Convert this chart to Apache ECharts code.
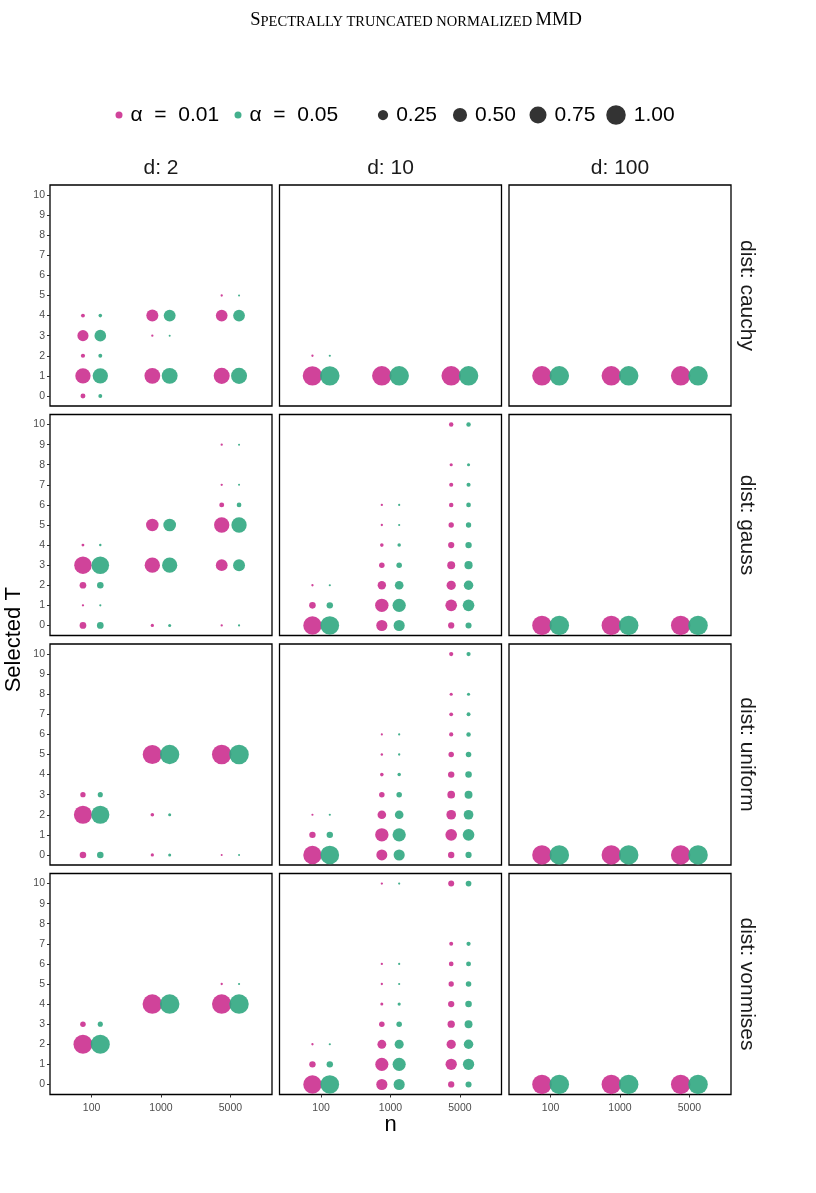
<!DOCTYPE html>
<html>
<head>
<meta charset="utf-8">
<title>Spectrally truncated normalized MMD</title>
<script src="https://cdn.jsdelivr.net/npm/echarts@6/dist/echarts.min.js"></script>
<style>
  html, body { margin: 0; padding: 0; background: #fff; }
  #chart { width: 816px; height: 1193px; }
</style>
</head>
<body>
<div id="chart"></div>
<script>
// facet labels / ticks
const nLabels = ['100', '1000', '5000'];
const dimLabels = ['d: 2', 'd: 10', 'd: 100'];
const distLabels = ['dist: cauchy', 'dist: gauss', 'dist: uniform', 'dist: vonmises'];
const tTicks = [0, 1, 2, 3, 4, 5, 6, 7, 8, 9, 10];
const sizeBreaks = [0.25, 0.5, 0.75, 1.0];
const alphaNames = ['α  =  0.01', 'α  =  0.05'];

// each point: [n index, selected T, proportion]
const cauchyD2A01 = [[0,0,.045],[0,1,.6],[0,2,.03],[0,3,.3],[0,4,.025],[1,1,.64],[1,3,.005],[1,4,.355],[2,1,.66],[2,4,.335],[2,5,.005]];
const cauchyD2A05 = [[0,0,.025],[0,1,.6],[0,2,.025],[0,3,.33],[0,4,.02],[1,1,.65],[1,3,.003],[1,4,.347],[2,1,.66],[2,4,.337],[2,5,.003]];
const cauchyD10A01 = [[0,1,.995],[0,2,.005],[1,1,1],[2,1,1]];
const cauchyD10A05 = [[0,1,.996],[0,2,.004],[1,1,1],[2,1,1]];
const cauchyD100A01 = [[0,1,1],[1,1,1],[2,1,1]];
const cauchyD100A05 = [[0,1,1],[1,1,1],[2,1,1]];

const gaussD2A01 = [[0,0,.095],[0,1,.005],[0,2,.095],[0,3,.795],[0,4,.01],[1,0,.015],[1,3,.6],[1,5,.385],[2,0,.005],[2,3,.34],[2,5,.6],[2,6,.045],[2,7,.005],[2,9,.005]];
const gaussD2A05 = [[0,0,.095],[0,1,.004],[0,2,.09],[0,3,.805],[0,4,.006],[1,0,.012],[1,3,.59],[1,5,.398],[2,0,.004],[2,3,.35],[2,5,.6],[2,6,.04],[2,7,.003],[2,9,.003]];
const gaussD10A01 = [[0,0,.88],[0,1,.09],[0,2,.005],[1,0,.3],[1,1,.45],[1,2,.16],[1,3,.06],[1,4,.02],[1,5,.005],[1,6,.005],[2,0,.08],[2,1,.33],[2,2,.2],[2,3,.14],[2,4,.08],[2,5,.055],[2,6,.035],[2,7,.028],[2,8,.014],[2,10,.035]];
const gaussD10A05 = [[0,0,.91],[0,1,.086],[0,2,.004],[1,0,.3],[1,1,.44],[1,2,.17],[1,3,.06],[1,4,.018],[1,5,.004],[1,6,.004],[2,0,.075],[2,1,.33],[2,2,.21],[2,3,.15],[2,4,.085],[2,5,.055],[2,6,.04],[2,7,.028],[2,8,.013],[2,10,.035]];
const gaussD100A01 = [[0,0,1],[1,0,1],[2,0,1]];
const gaussD100A05 = [[0,0,1],[1,0,1],[2,0,1]];

const uniformD2A01 = [[0,0,.09],[0,2,.855],[0,3,.055],[1,0,.015],[1,2,.02],[1,5,.965],[2,0,.003],[2,5,.997]];
const uniformD2A05 = [[0,0,.09],[0,2,.86],[0,3,.05],[1,0,.012],[1,2,.012],[1,5,.976],[2,0,.003],[2,5,.997]];
const uniformD10A01 = [[0,0,.88],[0,1,.085],[0,2,.004],[1,0,.29],[1,1,.45],[1,2,.17],[1,3,.06],[1,4,.02],[1,5,.006],[1,6,.004],[2,0,.085],[2,1,.33],[2,2,.22],[2,3,.13],[2,4,.085],[2,5,.058],[2,6,.03],[2,7,.024],[2,8,.014],[2,10,.03]];
const uniformD10A05 = [[0,0,.91],[0,1,.086],[0,2,.004],[1,0,.3],[1,1,.44],[1,2,.17],[1,3,.06],[1,4,.018],[1,5,.005],[1,6,.004],[2,0,.08],[2,1,.33],[2,2,.22],[2,3,.14],[2,4,.09],[2,5,.06],[2,6,.035],[2,7,.025],[2,8,.013],[2,10,.03]];
const uniformD100A01 = [[0,0,1],[1,0,1],[2,0,1]];
const uniformD100A05 = [[0,0,1],[1,0,1],[2,0,1]];

const vonmisesD2A01 = [[0,2,.94],[0,3,.06],[1,4,1],[2,4,.995],[2,5,.005]];
const vonmisesD2A05 = [[0,2,.95],[0,3,.05],[1,4,1],[2,4,.996],[2,5,.004]];
const vonmisesD10A01 = [[0,0,.88],[0,1,.085],[0,2,.005],[1,0,.3],[1,1,.43],[1,2,.18],[1,3,.06],[1,4,.012],[1,5,.005],[1,6,.005],[1,10,.005],[2,0,.082],[2,1,.31],[2,2,.2],[2,3,.116],[2,4,.082],[2,5,.054],[2,6,.04],[2,7,.026],[2,10,.073]];
const vonmisesD10A05 = [[0,0,.91],[0,1,.086],[0,2,.004],[1,0,.3],[1,1,.43],[1,2,.19],[1,3,.06],[1,4,.014],[1,5,.004],[1,6,.004],[1,10,.004],[2,0,.075],[2,1,.31],[2,2,.21],[2,3,.14],[2,4,.09],[2,5,.06],[2,6,.045],[2,7,.03],[2,10,.065]];
const vonmisesD100A01 = [[0,0,1],[1,0,1],[2,0,1]];
const vonmisesD100A05 = [[0,0,1],[1,0,1],[2,0,1]];

const panels = [
  [[cauchyD2A01, cauchyD2A05], [cauchyD10A01, cauchyD10A05], [cauchyD100A01, cauchyD100A05]],
  [[gaussD2A01, gaussD2A05], [gaussD10A01, gaussD10A05], [gaussD100A01, gaussD100A05]],
  [[uniformD2A01, uniformD2A05], [uniformD10A01, uniformD10A05], [uniformD100A01, uniformD100A05]],
  [[vonmisesD2A01, vonmisesD2A05], [vonmisesD10A01, vonmisesD10A05], [vonmisesD100A01, vonmisesD100A05]]
];

const colors = ['#CB2F8F', '#30A781'];
const dodge = [-0.125, 0.125];
const FONT = 'Liberation Sans';
const dia = p => 1 + 18.5 * Math.sqrt(p);

// panel layout
const lefts = [50, 279.5, 509];
const tops = [185, 414.5, 644, 873.5];
const W = 222, H = 221;

const grid = [], xAxis = [], yAxis = [], series = [];
panels.forEach((row, r) => {
  row.forEach((pair, c) => {
    const k = grid.length;
    const bottomRow = r === panels.length - 1;
    const leftCol = c === 0;
    grid.push({
      left: lefts[c], top: tops[r], width: W, height: H,
      show: true, borderColor: '#000', borderWidth: 1.3, backgroundColor: '#fff'
    });
    xAxis.push({
      gridIndex: k, type: 'value', min: 0.4, max: 3.6,
      axisLine: { show: false, onZero: false },
      splitLine: { show: false },
      axisTick: { show: bottomRow, length: 3, customValues: [1, 2, 3], lineStyle: { color: '#333' } },
      axisLabel: {
        show: bottomRow, customValues: [1, 2, 3], margin: 8,
        fontSize: 10.5, color: '#4D4D4D', fontFamily: FONT,
        formatter: v => nLabels[Math.round(v) - 1]
      }
    });
    yAxis.push({
      gridIndex: k, type: 'value', min: -0.5, max: 10.5,
      axisLine: { show: false, onZero: false },
      splitLine: { show: false },
      axisTick: { show: leftCol, length: 3, customValues: tTicks, lineStyle: { color: '#333' } },
      axisLabel: {
        show: leftCol, customValues: tTicks, margin: 5,
        fontSize: 10.5, color: '#4D4D4D', fontFamily: FONT
      }
    });
    pair.forEach((pts, a) => {
      series.push({
        type: 'scatter', name: alphaNames[a],
        xAxisIndex: k, yAxisIndex: k,
        data: pts.map(([i, t, p]) => [i + 1 + dodge[a], t, p]),
        symbolSize: v => dia(v[2]),
        itemStyle: { color: colors[a], opacity: 0.9 },
        emphasis: { disabled: true }
      });
    });
  });
});

// empty series only to feed the size legend
sizeBreaks.forEach(b => {
  series.push({ type: 'scatter', name: b.toFixed(2), xAxisIndex: 0, yAxisIndex: 0, data: [], itemStyle: { color: '#333' } });
});

const legendText = { fontSize: 21, color: '#000', fontFamily: FONT, lineHeight: 22, padding: [0, 0, 0, 3] };
const legend = [];
const alphaLeft = [115.5, 234.5];
alphaNames.forEach((name, i) => {
  legend.push({
    data: [name], left: alphaLeft[i], top: 104, padding: 0, icon: 'circle',
    itemWidth: 7, itemHeight: 7, selectedMode: false, textStyle: legendText
  });
});
const sizeCenters = [383, 460, 538, 616];
sizeBreaks.forEach((b, i) => {
  const d = dia(b);
  legend.push({
    data: [b.toFixed(2)], left: sizeCenters[i] - d / 2, top: 104, padding: 0, icon: 'circle',
    itemWidth: d, itemHeight: d, selectedMode: false, textStyle: legendText,
    itemStyle: { color: '#333', opacity: 1 }
  });
});

const graphic = [];
// title in small caps
graphic.push({
  type: 'text', x: 416, y: 20,
  style: {
    text: '{b|S}{s|PECTRALLY TRUNCATED NORMALIZED} {b|MMD}',
    align: 'center', verticalAlign: 'middle', fill: '#000',
    rich: {
      b: { fontSize: 18.5, fontFamily: 'Liberation Serif', verticalAlign: 'bottom', fill: '#000' },
      s: { fontSize: 14.5, fontFamily: 'Liberation Serif', verticalAlign: 'bottom', fill: '#000' }
    }
  }
});
dimLabels.forEach((t, c) => {
  graphic.push({ type: 'text', x: lefts[c] + W / 2, y: 168,
    style: { text: t, align: 'center', verticalAlign: 'middle', fontSize: 21, fontFamily: FONT, fill: '#1A1A1A' } });
});
distLabels.forEach((t, r) => {
  graphic.push({ type: 'text', x: 747, y: tops[r] + H / 2, rotation: -Math.PI / 2,
    style: { text: t, align: 'center', verticalAlign: 'middle', fontSize: 21, fontFamily: FONT, fill: '#1A1A1A' } });
});
graphic.push({ type: 'text', x: 14, y: (tops[0] + tops[3] + H) / 2, rotation: Math.PI / 2,
  style: { text: 'Selected T', align: 'center', verticalAlign: 'middle', fontSize: 22, fontFamily: FONT, fill: '#000' } });
graphic.push({ type: 'text', x: (lefts[0] + lefts[2] + W) / 2, y: 1125,
  style: { text: 'n', align: 'center', verticalAlign: 'middle', fontSize: 22, fontFamily: FONT, fill: '#000' } });

const chart = echarts.init(document.getElementById('chart'));
chart.setOption({
  animation: false,
  backgroundColor: '#fff',
  grid, xAxis, yAxis, series, legend, graphic
});
</script>
</body>
</html>
